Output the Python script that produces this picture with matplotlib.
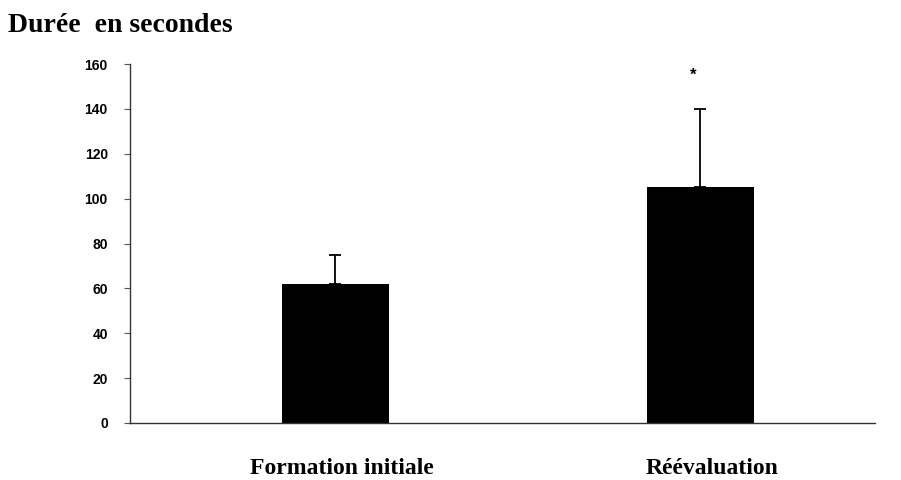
import matplotlib
matplotlib.use("Agg")
import matplotlib.pyplot as plt

categories = ["Formation initiale", "Réévaluation"]
means = [62, 105]
errors_up = [13, 35]
yticks = [0, 20, 40, 60, 80, 100, 120, 140, 160]

fig = plt.figure(figsize=(9.01, 4.80), dpi=100)
ax = fig.add_axes([130/901, 57/480, 745/901, 359/480])

x = [0, 1]
ax.bar(x, means, width=0.293, color="black", zorder=2)
ax.errorbar(x, means, yerr=[[0, 0], errors_up], fmt="none", ecolor="black",
            elinewidth=1.3, capsize=4, capthick=1.3, zorder=3)

ax.set_xlim(-0.562, 1.479)
ax.set_ylim(0, 160)
ax.set_yticks(yticks)
ax.set_yticklabels([str(t) for t in yticks], family="Liberation Sans",
                   fontweight="bold", fontsize=10)
ax.set_xticks([])
for s in ["top", "right"]:
    ax.spines[s].set_visible(False)
for s in ["left", "bottom"]:
    ax.spines[s].set_color("#333333")
    ax.spines[s].set_linewidth(1.0)
ax.tick_params(axis="y", direction="out", length=4, width=0.8, color="#555555", pad=12)

# category labels
label_x = [342/901, 712/901]
for lx, c in zip(label_x, categories):
    fig.text(lx, 1 - 474/480, c, ha="center", va="baseline",
             family="Liberation Serif", fontweight="bold", fontsize=17)

ax.text(0.98, 155, "*", ha="center", va="center", family="Liberation Sans",
        fontweight="bold", fontsize=12)

fig.text(8/901, 1 - 32/480, "Durée  en secondes", ha="left", va="baseline",
         family="Liberation Serif", fontweight="bold", fontsize=20)

fig.savefig("out.png", dpi=100)
